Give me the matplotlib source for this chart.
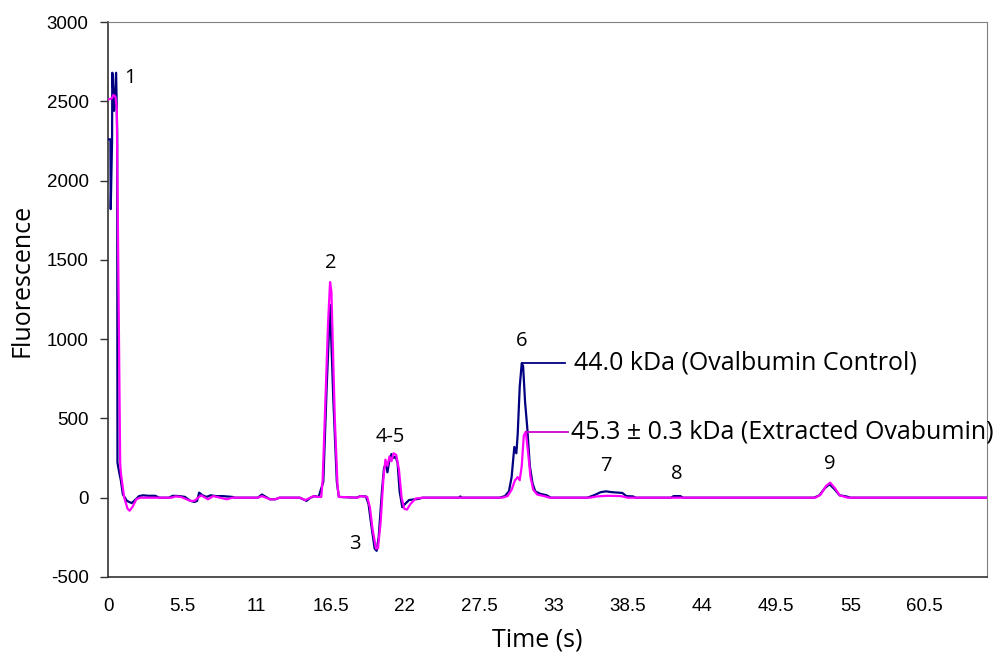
import matplotlib
matplotlib.use("Agg")
import matplotlib.pyplot as plt
import numpy as np

plt.rcParams["axes.unicode_minus"] = False

# Ovalbumin control (navy trace)
control_t = [0.0, 0.18, 0.2, 0.3, 0.32, 0.45, 0.6, 0.68, 0.7, 0.85, 0.95, 1.1, 1.4, 1.75, 2.0, 2.3,
             2.6, 3.0, 3.5, 3.8, 4.5, 4.8, 5.3, 5.7, 6.1, 6.4, 6.6, 6.75, 7.0, 7.3, 7.6, 8.0, 8.5, 9.2,
             9.4, 11.1, 11.4, 11.7, 12.0, 12.4, 12.7, 14.2, 14.7, 15.0, 15.3, 15.6, 15.95, 16.2, 16.45,
             16.7, 16.95, 17.1, 18.4, 18.7, 19.1, 19.3, 19.5, 19.75, 19.9, 20.05, 20.3, 20.45, 20.6,
             20.7, 20.85, 21.0, 21.15, 21.3, 21.45, 21.6, 21.8, 22.0, 22.3, 22.7, 23.0, 23.3, 26.0,
             26.1, 26.2, 29.0, 29.4, 29.7, 29.9, 30.1, 30.25, 30.35, 30.5, 30.65, 30.75, 30.9, 31.05,
             31.25, 31.45, 31.65, 32.0, 32.5, 32.8, 35.5, 36.0, 36.5, 36.9, 37.3, 38.1, 38.4, 38.9,
             39.1, 41.7, 41.9, 42.4, 42.6, 52.3, 52.7, 53.1, 53.45, 53.8, 54.2, 54.7, 55.0, 65.1]
control_v = [2260, 2260, 1820, 2250, 2680, 2440, 2680, 2300, 220, 150, 110, 20, -20, -34, -15, 10,
             15, 12, 12, 0, 0, 12, 10, 5, -20, -27, -20, 32, 15, 5, 15, 10, 10, 5,
             0, 0, 20, 5, -10, -10, 0, 0, -20, 0, 10, 5, 100, 700, 1215,
             600, 100, 5, 0, 10, 8, -40, -170, -320, -335, -250, 50, 190, 210,
             160, 240, 275, 250, 260, 220, 40, -60, -40, -15, -10, -8, 0, 0,
             8, 0, 0, 10, 40, 130, 320, 280, 400, 700, 848, 830, 600, 450,
             200, 90, 40, 25, 15, 0, 0, 15, 35, 40, 35, 30, 10, 8,
             0, 0, 10, 10, 0, 0, 15, 60, 85, 55, 15, 8, 0, 0]

# Extracted ovalbumin (magenta trace)
extract_t = [0.0, 0.3, 0.4, 0.55, 0.65, 0.9, 0.95, 1.2, 1.45, 1.6, 1.8, 2.1, 2.4, 4.7, 5.0, 5.4,
             6.1, 6.4, 6.6, 6.9, 7.2, 7.4, 7.8, 8.3, 8.8, 9.2, 11.1, 11.4, 11.7, 12.0, 12.4, 12.7,
             14.2, 14.6, 15.0, 15.2, 15.5, 15.8, 15.9, 16.1, 16.3, 16.45, 16.55, 16.8, 17.0, 17.1,
             18.5, 18.7, 19.2, 19.4, 19.6, 19.85, 20.0, 20.2, 20.4, 20.55, 20.7, 20.85, 21.0, 21.15,
             21.35, 21.55, 21.75, 21.95, 22.15, 22.4, 22.8, 23.3, 29.2, 29.6, 29.9, 30.15, 30.35,
             30.5, 30.65, 30.8, 30.95, 31.1, 31.3, 31.5, 31.8, 32.3, 32.7, 35.7, 36.2, 37.0, 38.0,
             38.5, 52.4, 52.8, 53.2, 53.5, 53.85, 54.2, 54.6, 54.8, 65.1]
extract_v = [2510, 2520, 2540, 2530, 2450, 220, 155, 0, -70, -82, -60, -10, 0, 0, 8, 5,
             -20, -20, -5, 15, 0, -10, 10, 0, -10, 0, 0, 10, 0, -10, -10, 0,
             0, -15, 0, 10, 5, 5, 110, 600, 1100, 1360, 1300, 500, 80, 5,
             0, 10, 5, -60, -200, -320, -320, -150, 120, 240, 200, 260, 230, 280,
             270, 180, 0, -70, -75, -40, -5, 0, 0, 10, 50, 110, 130,
             110, 200, 390, 416, 300, 130, 50, 20, 10, 0, 0, 8, 12, 10,
             0, 0, 20, 75, 95, 60, 15, 5, 0, 0]

# peak labels
peak_labels = ["1", "2", "3", "4-5", "6", "7", "8", "9"]
label_t = [1.6, 16.5, 18.3, 20.9, 30.65, 36.9, 42.1, 53.45]
label_v = [2650, 1480, -290, 385, 990, 200, 150, 215]

control_text = "44.0 kDa (Ovalbumin Control)"
extract_text = "45.3 \u00b1 0.3 kDa (Extracted Ovabumin)"

fig = plt.figure(figsize=(10.02, 6.57), dpi=100)
ax = fig.add_axes([0.1078, 0.1218, 0.877, 0.8447])

ax.plot(control_t, control_v, color="#000080", lw=1.6, zorder=3)
ax.plot(extract_t, extract_v, color="#FF00FF", lw=1.6, zorder=4)

ax.set_xlim(0, 65.1)
ax.set_ylim(-500, 3000)
ax.set_yticks(np.arange(-500, 3001, 500))
xt = np.arange(0, 61, 5.5)
ax.set_xticks(xt)
ax.set_xticklabels([f"{v:g}" for v in xt])

for lab in ax.get_xticklabels() + ax.get_yticklabels():
    lab.set_fontfamily("Liberation Sans")
    lab.set_fontsize(13.5)
ax.tick_params(axis="x", length=0, pad=15)
ax.tick_params(axis="y", direction="out", length=6, width=1, pad=8, color="#333333")

for s in ["top", "right"]:
    ax.spines[s].set_color("#808080")
for s in ["left", "bottom"]:
    ax.spines[s].set_color("#333333")
    ax.spines[s].set_linewidth(1.2)

ax.set_xlabel("Time (s)", fontfamily="Open Sans", fontsize=18, va="center")
ax.set_ylabel("Fluorescence", fontfamily="Open Sans", fontsize=18, va="center", ha="center")
ax.xaxis.set_label_coords(0.488, -0.1135)
ax.yaxis.set_label_coords(-0.098, 0.535)

for txt, t, v in zip(peak_labels, label_t, label_v):
    ax.text(t, v, txt, fontfamily="Open Sans", fontsize=14.5, ha="center", va="center")

# annotation leaders from the peak 6 maxima
ct = np.array(control_t); cv = np.array(control_v)
et = np.array(extract_t); ev = np.array(extract_v)
m = (ct > 29) & (ct < 33)
i = np.argmax(np.where(m, cv, -1e9))
ax.plot([ct[i], 33.85], [cv[i], cv[i]], color="#000080", lw=1.3, zorder=5)
ax.text(34.5, cv[i], control_text, fontfamily="Open Sans", fontsize=18,
        ha="left", va="center", clip_on=False)
m = (et > 29) & (et < 33)
j = np.argmax(np.where(m, ev, -1e9))
ax.plot([et[j], 34.07], [ev[j], ev[j]], color="#CC00CC", lw=1.3, zorder=5)
ax.text(34.3, ev[j], extract_text, fontfamily="Open Sans", fontsize=18,
        ha="left", va="center", clip_on=False)

fig.savefig("out.png", dpi=100)
